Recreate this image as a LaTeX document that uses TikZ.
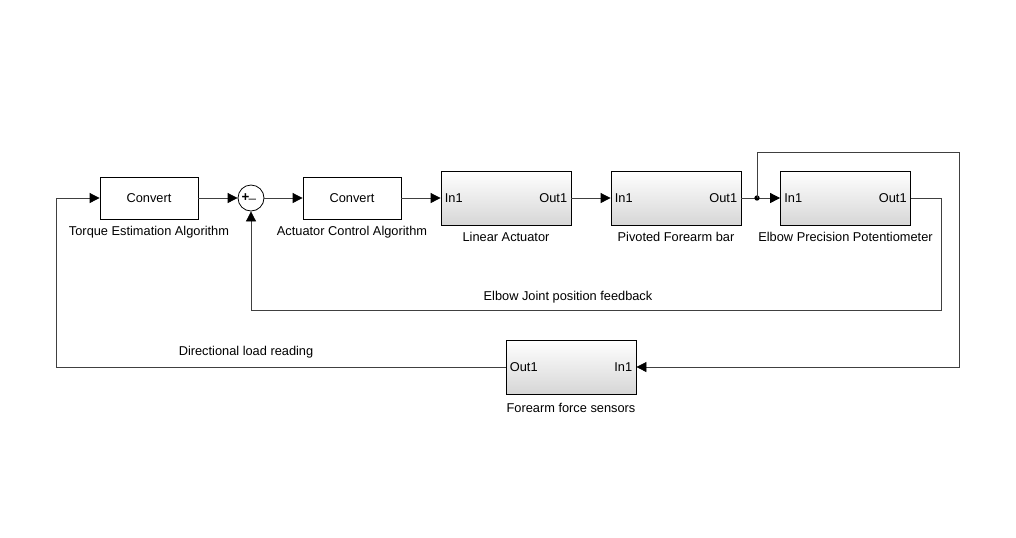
\documentclass[tikz,border=0pt]{standalone}
\usepackage{fontspec}
\setmainfont{Liberation Sans}
\usetikzlibrary{arrows.meta}
\begin{document}
\begin{tikzpicture}[x=0.75pt,y=-0.75pt,
  every node/.style={font=\fontsize{9.6}{11}\selectfont},
  plainblk/.style={draw=black,fill=white,line width=0.6pt,minimum width=73.5pt,minimum height=31.5pt,inner sep=0pt},
  gradblk/.style={draw=black,line width=0.6pt,top color=white,bottom color=black!16,minimum width=97.5pt,minimum height=40.5pt,inner sep=0pt},
  sumblk/.style={draw=black,circle,fill=white,line width=0.6pt,minimum size=19.5pt,inner sep=0pt},
  port/.style={inner sep=0pt,font=\fontsize{9.6}{11}\selectfont},
  lab/.style={inner sep=0pt},
  wire/.style={draw=black!75,line width=0.6pt},
  arr/.style={wire,-{Triangle[length=7.5pt,width=7.5pt,fill=black,color=black]}}]
\useasboundingbox (0,0) rectangle (1016,537);
% blocks
\node[plainblk] (te) at (149,198) {Convert};
\node[sumblk] (sum) at (251,198) {};
\node[inner sep=0pt,font=\fontsize{10}{11}\selectfont\bfseries] (plus) at (245.5,197.5) {+};
\node[inner sep=0pt] (minus) at (252.5,199) {\_};
\node[plainblk] (aca) at (352,198) {Convert};
\node[gradblk] (la) at (506,198) {};
\node[gradblk] (pf) at (676,198) {};
\node[gradblk] (ep) at (845.5,198) {};
\node[gradblk] (fs) at (571,367) {};
% ports
\node[port,anchor=west] (lain) at ([xshift=3pt]la.west) {In1};
\node[port,anchor=east] (laout) at ([xshift=-3pt]la.east) {Out1};
\node[port,anchor=west] (pfin) at ([xshift=3pt]pf.west) {In1};
\node[port,anchor=east] (pfout) at ([xshift=-3pt]pf.east) {Out1};
\node[port,anchor=west] (epin) at ([xshift=3pt]ep.west) {In1};
\node[port,anchor=east] (epout) at ([xshift=-3pt]ep.east) {Out1};
\node[port,anchor=west] (fsout) at ([xshift=3pt]fs.west) {Out1};
\node[port,anchor=east] (fsin) at ([xshift=-3pt]fs.east) {In1};
% block labels
\node[lab] (tel) at (149,232) {Torque Estimation Algorithm};
\node[lab] (acal) at (352,232) {Actuator Control Algorithm};
\node[lab] (lal) at (506,237) {Linear Actuator};
\node[lab] (pfl) at (676,237) {Pivoted Forearm bar};
\node[lab] (epl) at (845.5,237) {Elbow Precision Potentiometer};
\node[lab] (fsl) at (571,408) {Forearm force sensors};
\node[lab] (fbl) at (568,297) {Elbow Joint position feedback};
\node[lab] (dll) at (246,352) {Directional load reading};
% coordinates
\coordinate (j) at (757,198);
\coordinate (jt) at (757,152);
\coordinate (rt) at (959,152);
\coordinate (eo) at (941,198);
\coordinate (fb) at (941,310);
\coordinate (ll) at (56,367);
% connectors
\draw[arr] (te.east) -- (sum.west);
\draw[arr] (sum.east) -- (aca.west);
\draw[arr] (aca.east) -- (la.west);
\draw[arr] (la.east) -- (pf.west);
\draw[arr] (pf.east) -- (ep.west);
\fill[black] (j) circle (2pt);
\draw[arr] (j) -- (jt) -- (rt) |- (fs.east);
\draw[arr] (ep.east) -- (eo) -- (fb) -| (sum.south);
\draw[arr] (fs.west) -- (ll) |- (te.west);
\end{tikzpicture}
\end{document}
